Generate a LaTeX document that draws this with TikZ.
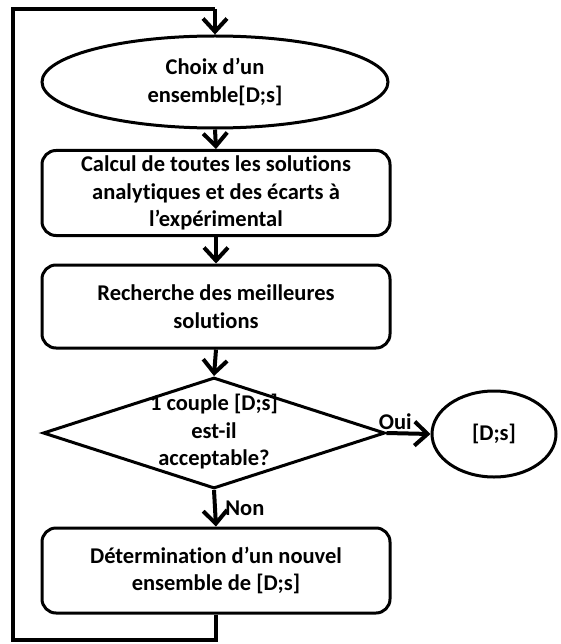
\documentclass[tikz,border=0pt]{standalone}
\usepackage{fontspec}
\setmainfont{Carlito}[RawFeature={-liga;-dlig;-clig}]
\usetikzlibrary{arrows.meta, calc, positioning, shapes.geometric}

\tikzset{
    flowline/.style={line width=4pt, -{Straight Barb[length=13pt, width=24pt]}},
    boxtext/.style={font=\bfseries\fontsize{22.5}{27.5}\selectfont, align=center},
    procbox/.style={draw, line width=3pt, rounded corners=14pt, boxtext,
        minimum width=348pt, minimum height=85pt},
}

\begin{document}
\begin{tikzpicture}[x=1pt, y=-1pt]
    \useasboundingbox (0,0) rectangle (560,644);

    % Nodes of the chart
    \node[draw, ellipse, line width=3pt, boxtext, minimum width=346pt, minimum height=92pt, inner sep=0pt] (choix) at (215,82) {Choix d’un\\ensemble[D;s]};
    \node[procbox] (calcul) at (216,193) {Calcul de toutes les solutions\\analytiques et des écarts à\\l’expérimental};
    \node[procbox, minimum height=83pt] (recherche) at (216,306.5) {Recherche des meilleures\\solutions};
    \node[draw, diamond, line width=3pt, minimum width=342pt, minimum height=111pt, inner sep=0pt] (test) at (214,433) {};
    \node[boxtext] (testtxt) at (214,432) {1 couple [D;s]\\est-il\\acceptable?};
    \node[draw, ellipse, line width=3pt, boxtext, minimum width=124pt, minimum height=86pt, inner sep=0pt] (result) at (494,434) {[D;s]};
    \node[procbox] (nouvel) at (216,570.5) {Détermination d’un nouvel\\ensemble de [D;s]};

    % Main flow
    \draw[flowline] (choix.south) -- (calcul.north);
    \draw[flowline] (calcul.south) -- (recherche.north);
    \draw[flowline] (recherche.south) -- (test.north);
    \draw[flowline] (test.east) -- (result.west) node[boxtext, pos=0.2, above=-2pt] {Oui};
    \draw[flowline] (test.south) -- (nouvel.north) node[boxtext, midway, right=5pt] {Non};

    % Loop back to the top
    \coordinate (loopA) at (216,640);
    \coordinate (loopB) at (13,640);
    \coordinate (loopC) at (13,9);
    \coordinate (loopD) at (215,9);
    \draw[line width=4pt] (nouvel.south) -- (loopA) -- (loopB) -- (loopC) -- (loopD);
    \draw[flowline] (loopD) -- (choix.north);
\end{tikzpicture}
\end{document}
